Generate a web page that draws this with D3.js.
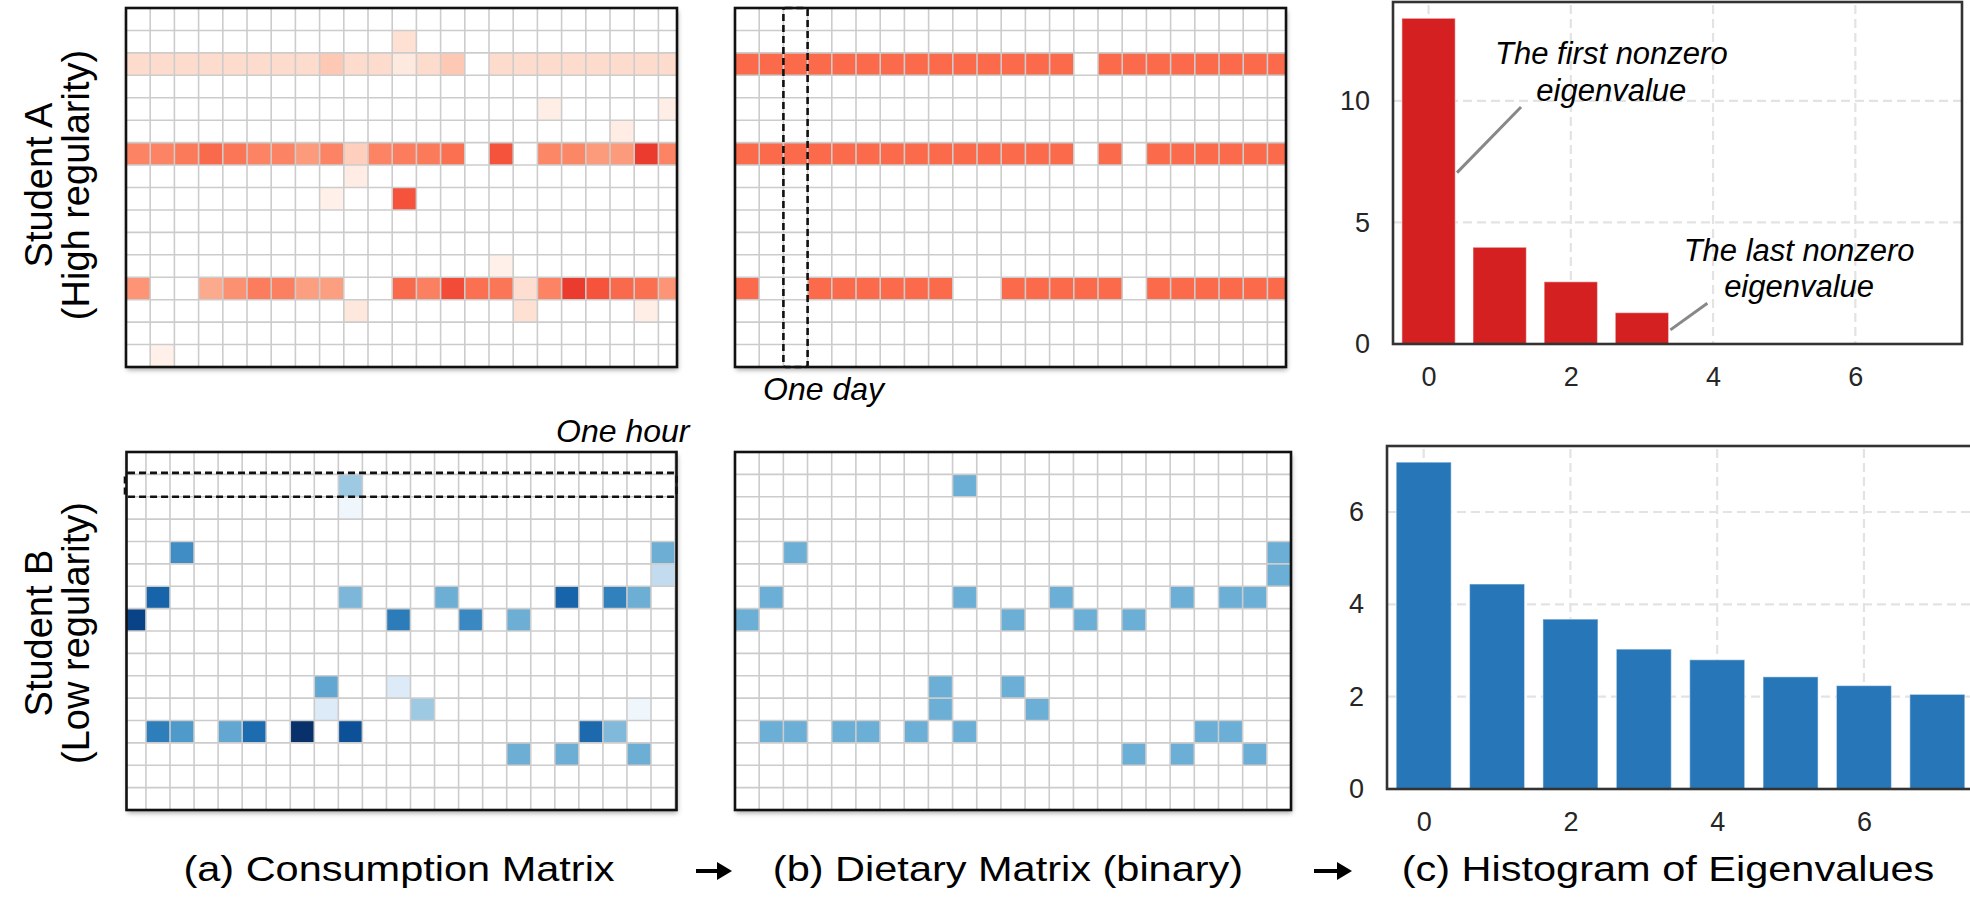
<!DOCTYPE html>
<html>
<head>
<meta charset="utf-8">
<script src="https://cdn.jsdelivr.net/npm/d3@7"></script>
<style>
  html, body { margin: 0; padding: 0; background: #fff; }
  svg { display: block; font-family: "Liberation Sans", Arial, Helvetica, sans-serif; }
</style>
</head>
<body>
<svg id="fig" width="1970" height="900"></svg>
<script>
// ---------------- data ----------------
const HOURS = 16;   // rows: hour slots
const DAYS = 23;    // columns: days

// Student A consumption: dense rows (hour -> 23 daily intensities)
const consumptionA_rows = [
  { hour: 2,  values: [0.13,0.13,0.13,0.13,0.13,0.13,0.13,0.13,0.2,0.13,0.13,0.07,0.13,0.2,0,0.13,0.13,0.13,0.13,0.13,0.13,0.13,0.13] },
  { hour: 6,  values: [0.42,0.42,0.45,0.5,0.46,0.42,0.42,0.35,0.42,0.18,0.42,0.44,0.45,0.48,0,0.56,0,0.41,0.41,0.35,0.35,0.63,0.42] },
  { hour: 12, values: [0.37,0,0,0.3,0.38,0.44,0.43,0.34,0.34,0,0,0.5,0.43,0.58,0.48,0.46,0.12,0.42,0.63,0.56,0.5,0.48,0.37] }
];
// Student A consumption: isolated cells [hour, day, intensity]
const consumptionA_cells = [
  [1,11,0.11],[4,17,0.04],[4,22,0.04],[5,20,0.05],[7,9,0.05],[8,8,0.03],
  [8,11,0.56],[11,15,0.03],[13,9,0.08],[13,16,0.11],[13,21,0.04],[15,1,0.03]
];
// Student A dietary matrix (binary): active days per hour slot
const dietaryA = [
  { hour: 2,  days: [0,1,2,3,4,5,6,7,8,9,10,11,12,13,15,16,17,18,19,20,21,22] },
  { hour: 6,  days: [0,1,2,3,4,5,6,7,8,9,10,11,12,13,15,17,18,19,20,21,22] },
  { hour: 12, days: [0,3,4,5,6,7,8,11,12,13,14,15,17,18,19,20,21,22] }
];

// Student B consumption: [hour, day, intensity]
const consumptionB_cells = [
  [1,9,0.37],[2,9,0.04],[4,2,0.64],[4,22,0.5],[5,22,0.25],
  [6,1,0.8],[6,9,0.46],[6,13,0.5],[6,18,0.8],[6,20,0.69],[6,21,0.5],
  [7,0,0.93],[7,11,0.71],[7,14,0.66],[7,16,0.5],
  [10,8,0.53],[10,11,0.13],[11,8,0.13],[11,12,0.37],[11,21,0.04],
  [12,1,0.7],[12,2,0.59],[12,4,0.53],[12,5,0.77],[12,7,1.0],[12,9,0.88],[12,19,0.78],[12,20,0.45],
  [13,16,0.5],[13,18,0.5],[13,21,0.5]
];
// Student B dietary matrix (binary)
const dietaryB = [
  { hour: 1,  days: [9] },
  { hour: 4,  days: [2,22] },
  { hour: 5,  days: [22] },
  { hour: 6,  days: [1,9,13,18,20,21] },
  { hour: 7,  days: [0,11,14,16] },
  { hour: 10, days: [8,11] },
  { hour: 11, days: [8,12] },
  { hour: 12, days: [1,2,4,5,7,9,19,20] },
  { hour: 13, days: [16,18,21] }
];

// Eigenvalue spectra
const eigIndex = [0,1,2,3,4,5,6,7];
const eigenA = [13.4, 3.98, 2.56, 1.29, 0, 0, 0, 0];
const eigenB = [7.08, 4.44, 3.68, 3.03, 2.80, 2.43, 2.24, 2.05];
const xTicks = [0,2,4,6];
const yTicksA = [0,5,10];
const yTicksB = [0,2,4,6];

const rowLabels = [["Student A","(High regularity)"],["Student B","(Low regularity)"]];
const panelTitles = ["(a) Consumption Matrix","(b) Dietary Matrix (binary)","(c) Histogram of Eigenvalues"];

// ---------------- helpers ----------------
const svg = d3.select("#fig");
const defs = svg.append("defs");
const shadow = defs.append("filter").attr("id","shadow")
  .attr("x","-5%").attr("y","-5%").attr("width","110%").attr("height","115%");
shadow.append("feDropShadow").attr("dx",1).attr("dy",3).attr("stdDeviation",2.5)
  .attr("flood-color","#000").attr("flood-opacity",0.35);

const reds = d3.scaleSequential(d3.interpolateReds).domain([0,1]);
const blues = d3.scaleSequential(d3.interpolateBlues).domain([0,1]);

function denseToCells(rows, cells) {
  const out = [];
  rows.forEach(r => r.values.forEach((v, day) => { if (v > 0) out.push({hour: r.hour, day, value: v}); }));
  cells.forEach(([hour, day, value]) => out.push({hour, day, value}));
  return out;
}
function binaryToCells(rows) {
  const out = [];
  rows.forEach(r => r.days.forEach(day => out.push({hour: r.hour, day, value: 1})));
  return out;
}

function drawMatrix(id, p, cells, fill) {
  const g = svg.append("g").attr("class", "matrix " + id);
  defs.append("clipPath").attr("id", "clip-" + id)
    .append("rect").attr("x", p.x).attr("y", p.y).attr("width", p.w).attr("height", p.h);
  const x = d3.scaleLinear().domain([0, DAYS]).range([p.x + p.shift, p.x + p.shift + DAYS * p.cw]);
  const y = d3.scaleLinear().domain([0, HOURS]).range([p.y, p.y + p.h]);

  g.append("rect").attr("x", p.x).attr("y", p.y).attr("width", p.w).attr("height", p.h)
    .attr("fill", "#fff").attr("filter", "url(#shadow)");

  const inner = g.append("g").attr("clip-path", `url(#clip-${id})`);
  inner.selectAll("rect.cell").data(cells).join("rect").attr("class","cell")
    .attr("x", d => x(d.day)).attr("y", d => y(d.hour))
    .attr("width", x(1) - x(0)).attr("height", y(1) - y(0))
    .attr("fill", d => fill(d.value));
  inner.selectAll("line.v").data(d3.range(DAYS + 1)).join("line").attr("class","v")
    .attr("x1", d => x(d)).attr("x2", d => x(d)).attr("y1", p.y).attr("y2", p.y + p.h)
    .attr("stroke", "#cccccc").attr("stroke-width", 1.6);
  inner.selectAll("line.h").data(d3.range(HOURS + 1)).join("line").attr("class","h")
    .attr("x1", p.x).attr("x2", p.x + p.w).attr("y1", d => y(d)).attr("y2", d => y(d))
    .attr("stroke", "#cccccc").attr("stroke-width", 1.6);

  g.append("rect").attr("x", p.x).attr("y", p.y).attr("width", p.w).attr("height", p.h)
    .attr("fill", "none").attr("stroke", "#111").attr("stroke-width", 2.6);
  return {x, y, g};
}

function drawBars(p, values, yMax, yTicks, color) {
  const g = svg.append("g").attr("class", "bars");
  const x = d3.scaleLinear().domain([-0.5, 7.5]).range([p.x, p.x + p.w]);
  const y = d3.scaleLinear().domain([0, yMax]).range([p.y + p.h, p.y]);
  const grid = g.append("g");
  grid.selectAll("line.gx").data(xTicks).join("line")
    .attr("x1", d => x(d)).attr("x2", d => x(d)).attr("y1", p.y + 3).attr("y2", p.y + p.h)
    .attr("stroke", "#e3e3e3").attr("stroke-width", 2.2).attr("stroke-dasharray", "9,5");
  grid.selectAll("line.gy").data(yTicks.filter(t => t > 0)).join("line")
    .attr("x1", p.x).attr("x2", p.x + p.w).attr("y1", d => y(d)).attr("y2", d => y(d))
    .attr("stroke", "#e3e3e3").attr("stroke-width", 2.2).attr("stroke-dasharray", "9,5");

  const bw = 0.75;
  g.selectAll("rect.bar").data(eigIndex.map(i => ({i, v: values[i]})).filter(d => d.v > 0)).join("rect")
    .attr("class", "bar")
    .attr("x", d => x(d.i - bw / 2)).attr("width", x(bw) - x(0))
    .attr("y", d => y(d.v)).attr("height", d => y(0) - y(d.v))
    .attr("fill", color).attr("stroke", "rgba(255,255,255,0.45)").attr("stroke-width", 1.2);

  g.append("rect").attr("x", p.x).attr("y", p.y).attr("width", p.w).attr("height", p.h)
    .attr("fill", "none").attr("stroke", "#333").attr("stroke-width", 2.6);

  const ax = g.append("g").attr("transform", `translate(0,${p.y + p.h})`)
    .call(d3.axisBottom(x).tickValues(xTicks).tickSize(0).tickPadding(23).tickFormat(d3.format("d")));
  const ay = g.append("g").attr("transform", `translate(${p.x},0)`)
    .call(d3.axisLeft(y).tickValues(yTicks).tickSize(0).tickPadding(23).tickFormat(d3.format("d")));
  [ax, ay].forEach(a => {
    a.select(".domain").remove();
    a.selectAll("text").attr("font-size", 27).attr("fill", "#262626")
      .attr("font-family", '"Liberation Sans", Arial, sans-serif');
  });
  return {x, y, g};
}

// ---------------- matrices ----------------
const mA1 = drawMatrix("a1", {x: 126, y: 8, w: 551, h: 359, cw: 24.2, shift: 0},
  denseToCells(consumptionA_rows, consumptionA_cells), reds);
const mB1 = drawMatrix("b1", {x: 735, y: 8, w: 551, h: 359, cw: 24.2, shift: 0},
  binaryToCells(dietaryA), () => "#fb6a4a");
const mA2 = drawMatrix("a2", {x: 126.5, y: 452, w: 550, h: 358, cw: 24.05, shift: -4.6},
  denseToCells([], consumptionB_cells), blues);
const mB2 = drawMatrix("b2", {x: 735, y: 452, w: 556, h: 358, cw: 556 / 23, shift: 0},
  binaryToCells(dietaryB), () => "#6baed6");

// "One day" column marker
mB1.g.append("rect")
  .attr("x", mB1.x(2)).attr("y", mB1.y(0)).attr("width", mB1.x(3) - mB1.x(2)).attr("height", mB1.y(HOURS) - mB1.y(0))
  .attr("rx", 2).attr("fill", "none").attr("stroke", "#111").attr("stroke-width", 2.6).attr("stroke-dasharray", "7,4");
svg.append("text").attr("x", 763).attr("y", 400).attr("font-size", 32).attr("font-style", "italic")
  .attr("fill", "#000").text("One day");

// "One hour" row marker
mA2.g.append("rect")
  .attr("x", 125).attr("y", mA2.y(1) - 1.5).attr("width", 551.5).attr("height", mA2.y(2) - mA2.y(1) + 1.5)
  .attr("rx", 3).attr("fill", "none").attr("stroke", "#111").attr("stroke-width", 2.6).attr("stroke-dasharray", "7,4");
svg.append("text").attr("x", 556).attr("y", 442).attr("font-size", 32).attr("font-style", "italic")
  .attr("fill", "#000").text("One hour");

// ---------------- eigenvalue bar charts ----------------
const cA = drawBars({x: 1393, y: 2, w: 569, h: 342}, eigenA, 14.07, yTicksA, "#d42020");
const cB = drawBars({x: 1387, y: 446, w: 587, h: 343}, eigenB, 7.43, yTicksB, "#2777b8");

// annotations on the first spectrum
const notes = [
  { lines: ["The first nonzero", "eigenvalue"], cx: 2.57, base: [11.53, 10.0], from: [1.30, 9.75], to: [0.40, 7.05] },
  { lines: ["The last nonzero", "eigenvalue"], cx: 5.21, base: [3.40, 1.95], from: [3.92, 1.68], to: [3.40, 0.58] }
];
notes.forEach(n => {
  cA.g.append("line")
    .attr("x1", cA.x(n.from[0])).attr("y1", cA.y(n.from[1]))
    .attr("x2", cA.x(n.to[0])).attr("y2", cA.y(n.to[1]))
    .attr("stroke", "#888").attr("stroke-width", 3);
  n.lines.forEach((t, k) => {
    cA.g.append("text").attr("x", cA.x(n.cx)).attr("y", cA.y(n.base[k]))
      .attr("text-anchor", "middle").attr("font-size", 31).attr("font-style", "italic")
      .attr("fill", "#000").text(t);
  });
});

// ---------------- row labels ----------------
const rowCenters = [185, 633];
rowLabels.forEach((lines, r) => {
  lines.forEach((t, k) => {
    svg.append("text")
      .attr("transform", `translate(${52 + k * 37},${rowCenters[r]}) rotate(-90)`)
      .attr("text-anchor", "middle").attr("font-size", 38).attr("fill", "#000").text(t);
  });
});

// ---------------- panel captions ----------------
const captionX = [399, 1008, 1668];
panelTitles.forEach((t, i) => {
  svg.append("text")
    .attr("transform", `translate(${captionX[i]},881) scale(1.186,1)`)
    .attr("text-anchor", "middle").attr("font-size", 35)
    .attr("fill", "#000").text(t);
});
// arrows between captions
[[696, 732], [1314, 1352]].forEach(([x1, x2]) => {
  const yA = 871;
  svg.append("line").attr("x1", x1).attr("x2", x2 - 10).attr("y1", yA).attr("y2", yA)
    .attr("stroke", "#000").attr("stroke-width", 4);
  svg.append("path").attr("d", `M${x2},${yA} L${x2 - 15},${yA - 9} L${x2 - 15},${yA + 9} Z`).attr("fill", "#000");
});
</script>
</body>
</html>
